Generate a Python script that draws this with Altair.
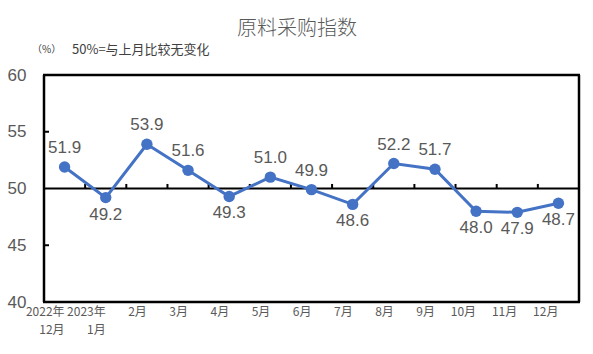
import altair as alt
import pandas as pd

categories = ["2022年\n12月", "2023年\n1月", "2月", "3月", "4月", "5月", "6月",
              "7月", "8月", "9月", "10月", "11月", "12月"]
values = [51.9, 49.2, 53.9, 51.6, 49.3, 51.0, 49.9, 48.6, 52.2, 51.7, 48.0, 47.9, 48.7]
label_pos = ["above", "below", "above", "above", "below", "above", "above",
             "below", "above", "above", "below", "below", "below"]
y_ticks = [40, 45, 50, 55, 60]

df = pd.DataFrame({"cat": categories, "v": values, "pos": label_pos,
                   "lbl": [f"{v:.1f}" for v in values]})
bounds = pd.DataFrame({"cat": categories[1:]})
yt = pd.DataFrame({"y": [45, 55]})

NUM_FONT = "Liberation Sans"
CJK_FONT = "Noto Sans CJK SC"
GRAY = "#595959"
BLUE = "#4472C4"
W, H = 535, 227

xscale = alt.Scale(domain=categories, paddingInner=0, paddingOuter=0)
yscale = alt.Scale(domain=[40, 60], nice=False, zero=False)

x_enc = alt.X("cat:N", sort=categories, scale=xscale, title=None,
              axis=alt.Axis(labelExpr="split(datum.label, '\\n')", labelAngle=0,
                            labelFont=CJK_FONT, labelFontSize=12, labelColor=GRAY,
                            labelLineHeight=18, labelPadding=4, ticks=False,
                            domain=False, labelBaseline="top"))
y_enc = alt.Y("v:Q", scale=yscale, title=None,
              axis=alt.Axis(values=y_ticks, labelFont=NUM_FONT, labelFontSize=17,
                            labelColor=GRAY, labelPadding=18, ticks=False,
                            domain=False, grid=False))

base = alt.Chart(df)

line = base.mark_line(color=BLUE, strokeWidth=3).encode(x=x_enc, y=y_enc)
pts = base.mark_circle(color=BLUE, size=130, opacity=1).encode(
    x=alt.X("cat:N", sort=categories), y=alt.Y("v:Q"))

above = base.transform_filter("datum.pos == 'above'").mark_text(
    font=NUM_FONT, fontSize=17, color=GRAY, baseline="bottom", dy=-10
).encode(x=alt.X("cat:N", sort=categories), y=alt.Y("v:Q"), text="lbl:N")
below = base.transform_filter("datum.pos == 'below'").mark_text(
    font=NUM_FONT, fontSize=17, color=GRAY, baseline="top", dy=9
).encode(x=alt.X("cat:N", sort=categories), y=alt.Y("v:Q"), text="lbl:N")

one = pd.DataFrame({"a": [0]})
def edge(x1, x2, y1, y2):
    return alt.Chart(one).mark_rule(color="black", strokeWidth=2.5).encode(
        x=alt.value(x1), x2=alt.value(x2), y=alt.value(y1), y2=alt.value(y2))

frame = [edge(-1, W + 1, 0, 0), edge(-1, W + 1, H, H), edge(0, 0, 0, H), edge(W, W, 0, H)]

fifty = alt.Chart(pd.DataFrame({"y": [50]})).mark_rule(color="black", strokeWidth=2).encode(
    y=alt.Y("y:Q"), x=alt.value(0), x2=alt.value(W))

xticks = alt.Chart(bounds).mark_rule(color="black", strokeWidth=2).encode(
    x=alt.X("cat:N", sort=categories, bandPosition=0),
    y=alt.datum(50), y2=alt.datum(50.4))

yticks = alt.Chart(yt).mark_rule(color="black", strokeWidth=2).encode(
    y=alt.Y("y:Q"), x=alt.value(0), x2=alt.value(5))

title = alt.Chart(pd.DataFrame({"t": ["原料采购指数"]})).mark_text(
    font=CJK_FONT, fontSize=20, color="#595959", align="center", baseline="middle",
    fontWeight=300
).encode(x=alt.value(253), y=alt.value(-46), text="t:N")
sub1 = alt.Chart(pd.DataFrame({"t": ["（%）"]})).mark_text(
    font=CJK_FONT, fontSize=10, color="#404040", align="left", baseline="middle"
).encode(x=alt.value(-12), y=alt.value(-25), text="t:N")
sub2 = alt.Chart(pd.DataFrame({"t": ["50%=与上月比较无变化"]})).mark_text(
    font=CJK_FONT, fontSize=13, color="#404040", align="left", baseline="middle"
).encode(x=alt.value(28), y=alt.value(-25), text="t:N")

chart = alt.layer(fifty, xticks, yticks, line, pts, above, below, title, sub1, sub2, *frame).properties(
    width=W, height=H,
    background="white",
    autosize=alt.AutoSizeParams(type="none"),
    padding={"left": 44, "top": 75, "right": 14, "bottom": 52},
).configure_view(stroke=None)

chart.save("out.html", embed_options={"renderer": "svg", "actions": False})
